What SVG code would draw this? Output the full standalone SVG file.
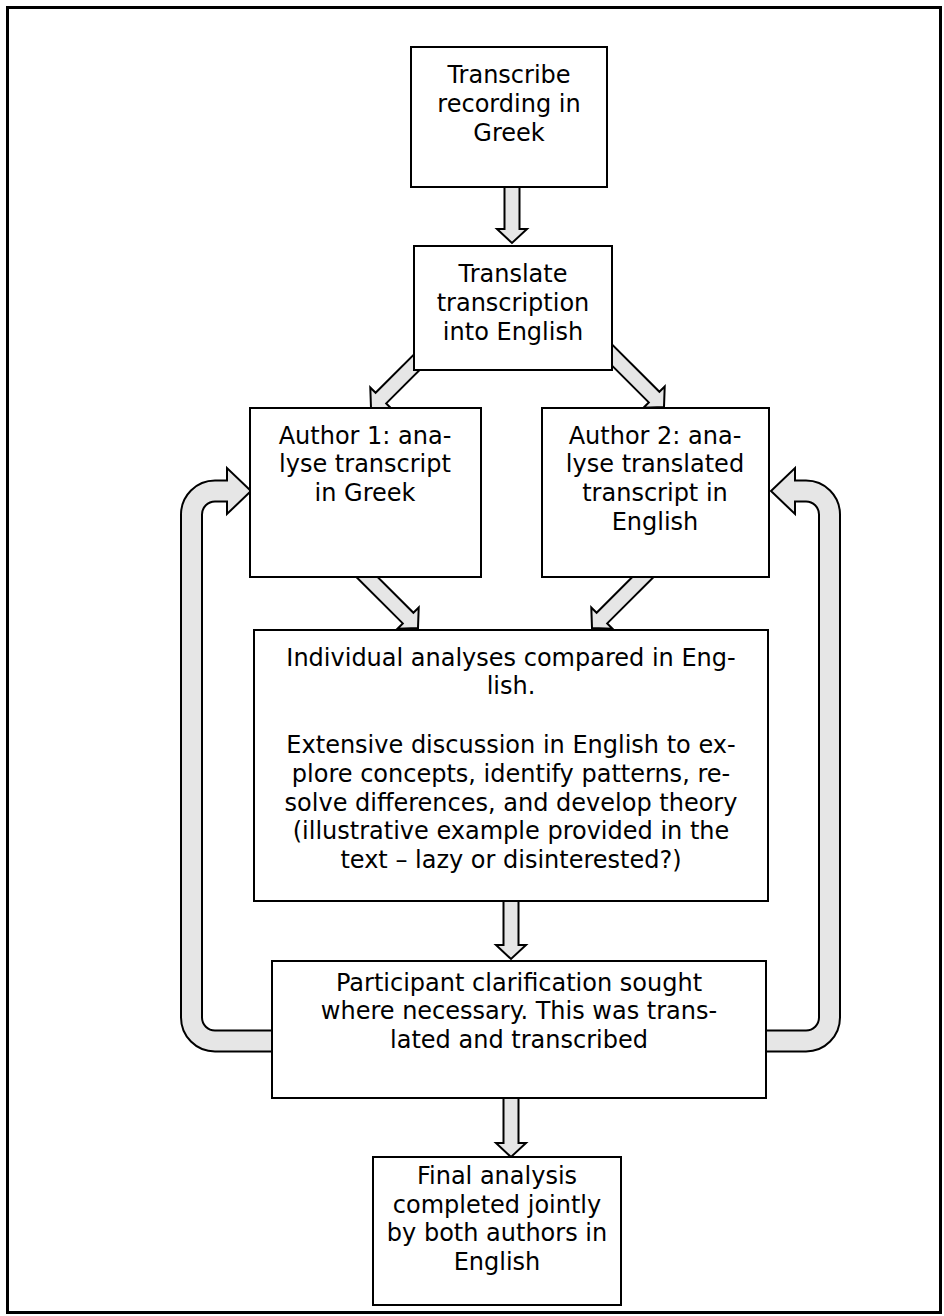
<svg xmlns="http://www.w3.org/2000/svg" width="944" height="1316" viewBox="0 0 944 1316">
<style>
.box{fill:#fff;stroke:#000;stroke-width:2}
.arr{fill:#e6e6e6;stroke:#000;stroke-width:2;stroke-linejoin:miter}
text{font-family:"DejaVu Sans","Liberation Sans",sans-serif;font-size:24px;fill:#000;text-anchor:middle}
</style>
<rect x="0" y="0" width="944" height="1316" fill="#fff"/>
<rect x="7.5" y="7.5" width="933" height="1305" fill="none" stroke="#000" stroke-width="3"/>
<g id="connectors">
<path class="arr" d="M504.5 180 L504.5 229 L497 229 L512 243 L527 229 L519.5 229 L519.5 180 Z"/>
<path class="arr" transform="translate(371,408) rotate(45)" d="M-7.5 -85 L-7.5 -14 L-15 -14 L0 0 L15 -14 L7.5 -14 L7.5 -85 Z"/>
<path class="arr" transform="translate(664,407) rotate(-45)" d="M-7.5 -90 L-7.5 -14 L-15 -14 L0 0 L15 -14 L7.5 -14 L7.5 -90 Z"/>
<path class="arr" transform="translate(418,628) rotate(-45)" d="M-7.5 -96 L-7.5 -14 L-15 -14 L0 0 L15 -14 L7.5 -14 L7.5 -96 Z"/>
<path class="arr" transform="translate(592,628) rotate(45)" d="M-7.5 -96 L-7.5 -14 L-15 -14 L0 0 L15 -14 L7.5 -14 L7.5 -96 Z"/>
<path class="arr" d="M503.5 895 L503.5 945 L496 945 L511 959 L526 945 L518.5 945 L518.5 895 Z"/>
<path class="arr" d="M503.5 1092 L503.5 1143 L496 1143 L511 1157 L526 1143 L518.5 1143 L518.5 1092 Z"/>
<path class="arr" d="M280 1030.5 L215 1030.5 A13 13 0 0 1 202 1017.5 L202 514.5 A13 13 0 0 1 215 501.5 L227 501.5 L227 514 L251 491 L227 468 L227 480.5 L215 480.5 A34 34 0 0 0 181 514.5 L181 1017.5 A34 34 0 0 0 215 1051.5 L280 1051.5 Z"/>
<path class="arr" d="M758 1030.5 L806 1030.5 A13 13 0 0 0 819 1017.5 L819 514.5 A13 13 0 0 0 806 501.5 L795 501.5 L795 514 L771 491 L795 468 L795 480.5 L806 480.5 A34 34 0 0 1 840 514.5 L840 1017.5 A34 34 0 0 1 806 1051.5 L758 1051.5 Z"/>
</g>
<g id="n1"><rect class="box" x="411" y="47" width="196" height="140"/>
<text x="509" y="83">Transcribe</text><text x="509" y="112">recording in</text><text x="509" y="141">Greek</text></g>
<g id="n2"><rect class="box" x="414" y="246" width="198" height="124"/>
<text x="513" y="282">Translate</text><text x="513" y="311">transcription</text><text x="513" y="340">into English</text></g>
<g id="n3"><rect class="box" x="250" y="408" width="231" height="169"/>
<text x="365" y="444">Author 1: ana-</text><text x="365" y="472">lyse transcript</text><text x="365" y="501">in Greek</text></g>
<g id="n4"><rect class="box" x="542" y="408" width="227" height="169"/>
<text x="655" y="444">Author 2: ana-</text><text x="655" y="472">lyse translated</text><text x="655" y="501">transcript in</text><text x="655" y="530">English</text></g>
<g id="n5"><rect class="box" x="254" y="630" width="514" height="271"/>
<text x="511" y="666">Individual analyses compared in Eng-</text><text x="511" y="694">lish.</text>
<text x="511" y="753">Extensive discussion in English to ex-</text><text x="511" y="782">plore concepts, identify patterns, re-</text><text x="511" y="811">solve differences, and develop theory</text><text x="511" y="839">(illustrative example provided in the</text><text x="511" y="868">text – lazy or disinterested?)</text></g>
<g id="n6"><rect class="box" x="272" y="961" width="494" height="137"/>
<text x="519" y="991">Participant clarification sought</text><text x="519" y="1019">where necessary. This was trans-</text><text x="519" y="1048">lated and transcribed</text></g>
<g id="n7"><rect class="box" x="373" y="1157" width="248" height="148"/>
<text x="497" y="1184">Final analysis</text><text x="497" y="1213">completed jointly</text><text x="497" y="1241">by both authors in</text><text x="497" y="1270">English</text></g>
</svg>
